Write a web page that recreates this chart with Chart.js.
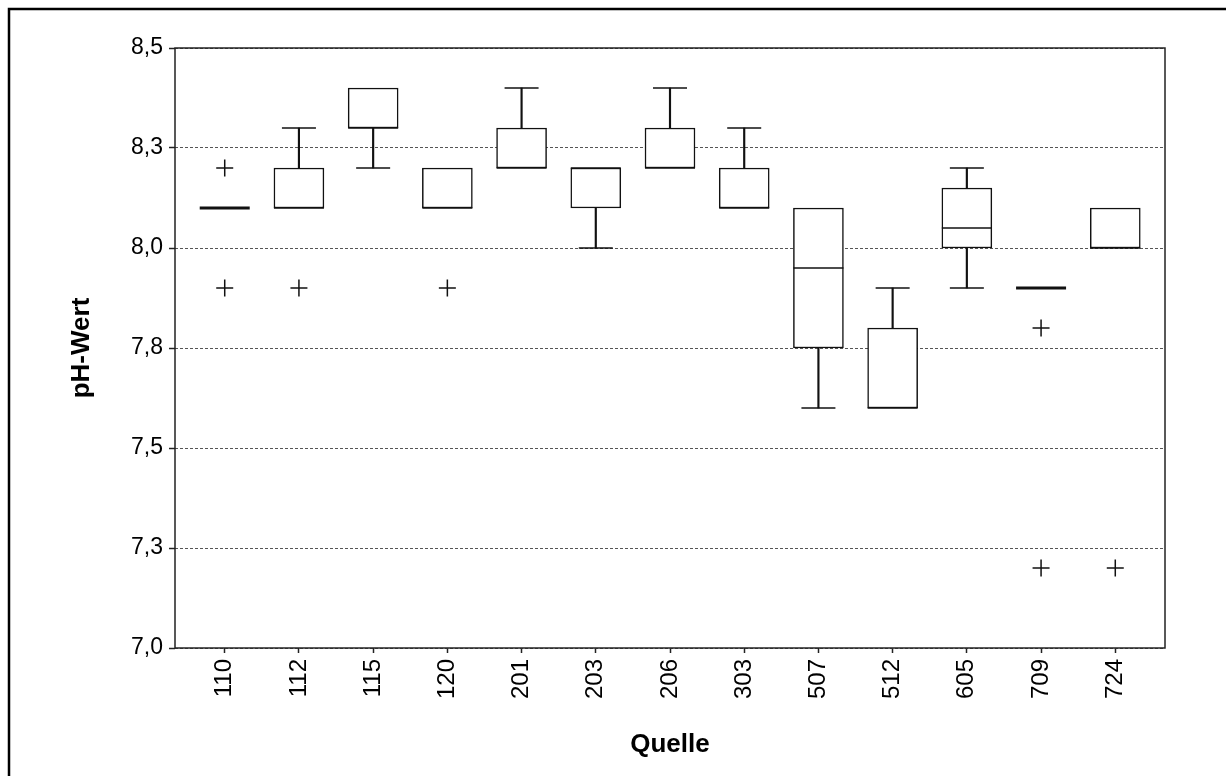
<!DOCTYPE html>
<html>
<head>
<meta charset="utf-8">
<title>pH-Wert je Quelle</title>
<script src="https://cdn.jsdelivr.net/npm/chart.js@4.4.1/dist/chart.umd.min.js"></script>
<style>
  html, body { margin: 0; padding: 0; background: #fff; overflow: hidden; }
  #wrap { position: relative; width: 1226px; height: 776px; }
</style>
</head>
<body>
<div id="wrap"><canvas id="myChart"></canvas></div>
<script>
// Quellen (categories)
const quellen = ['110', '112', '115', '120', '201', '203', '206', '303', '507', '512', '605', '709', '724'];

// box plot values per Quelle
const whiskerLow  = [8.1, 8.1, 8.2, 8.1, 8.2, 8.0, 8.2, 8.1, 7.6,  7.6, 7.9,  7.9, 8.0];
const boxLow      = [8.1, 8.1, 8.3, 8.1, 8.2, 8.1, 8.2, 8.1, 7.75, 7.6, 8.0,  7.9, 8.0];
const median      = [8.1, 8.1, 8.3, 8.1, 8.2, 8.2, 8.2, 8.1, 7.95, 7.6, 8.05, 7.9, 8.0];
const boxHigh     = [8.1, 8.2, 8.4, 8.2, 8.3, 8.2, 8.3, 8.2, 8.1,  7.8, 8.15, 7.9, 8.1];
const whiskerHigh = [8.1, 8.3, 8.4, 8.2, 8.4, 8.2, 8.4, 8.3, 8.1,  7.9, 8.2,  7.9, 8.1];

// Ausreißer (outliers)
const outlierQuelle = ['110', '110', '112', '120', '709', '709', '724'];
const outlierValue  = [8.2,   7.9,   7.9,   7.9,   7.8,   7.2,   7.2];

// y ticks
const yMin = 7.0, yMax = 8.5, yStep = 0.25;

const FONT = "'Liberation Sans', Arial, sans-serif";

// build datasets from the arrays
const boxData = quellen.map((q, i) => ({ x: i, y: [boxLow[i], boxHigh[i]] }));
const lowWhisker = [], highWhisker = [], lowCap = [], highCap = [];
quellen.forEach((q, i) => {
    if (whiskerLow[i] < boxLow[i]) {
        lowWhisker.push({ x: i, y: [whiskerLow[i], boxLow[i]] });
        lowCap.push({ x: i, y: whiskerLow[i] });
    }
    if (whiskerHigh[i] > boxHigh[i]) {
        highWhisker.push({ x: i, y: [boxHigh[i], whiskerHigh[i]] });
        highCap.push({ x: i, y: whiskerHigh[i] });
    }
});
const medianData = quellen.map((q, i) => ({ x: i, y: median[i] }));
const outlierData = outlierQuelle.map((q, k) => ({ x: quellen.indexOf(q), y: outlierValue[k] }));

// frame around the plot area and the whole picture
const framePlugin = {
    id: 'frames',
    afterDraw(chart) {
        const { ctx, chartArea: a } = chart;
        ctx.save();
        ctx.strokeStyle = '#222';
        ctx.lineWidth = 1.5;
        ctx.strokeRect(a.left, a.top, a.right - a.left, a.bottom - a.top);
        ctx.strokeStyle = '#000';
        ctx.lineWidth = 2.5;
        ctx.strokeRect(9, 9, 1400, 1000);
        ctx.restore();
    }
};

const lineStyle = { pointStyle: 'line', pointBorderColor: '#111', pointBackgroundColor: '#111', type: 'scatter' };

const config = {
    type: 'bar',
    data: {
        datasets: [
            {
                label: 'Box',
                data: boxData,
                grouped: false,
                barThickness: 50,
                backgroundColor: '#fff',
                borderColor: '#111',
                borderWidth: 1.5,
                borderSkipped: false,
                order: 2
            },
            {
                label: 'Whisker unten',
                data: lowWhisker,
                grouped: false,
                barThickness: 1.5,
                backgroundColor: '#111',
                borderWidth: 0,
                order: 3
            },
            {
                label: 'Whisker oben',
                data: highWhisker,
                grouped: false,
                barThickness: 1.5,
                backgroundColor: '#111',
                borderWidth: 0,
                order: 3
            },
            Object.assign({ label: 'Cap unten', data: lowCap, pointRadius: 17, pointBorderWidth: 1.5, order: 1 }, lineStyle),
            Object.assign({ label: 'Cap oben', data: highCap, pointRadius: 17, pointBorderWidth: 1.5, order: 1 }, lineStyle),
            Object.assign({
                label: 'Median',
                data: medianData,
                pointRadius: 25,
                pointBorderWidth: (c) => boxLow[c.dataIndex] === boxHigh[c.dataIndex] ? 3 : 1.5,
                order: 0
            }, lineStyle),
            {
                type: 'scatter',
                label: 'Ausreißer',
                data: outlierData,
                pointStyle: 'cross',
                pointRadius: 8.5,
                pointBorderWidth: 1.5,
                pointBorderColor: '#111',
                order: 0
            }
        ]
    },
    options: {
        responsive: true,
        maintainAspectRatio: false,
        animation: false,
        events: [],
        layout: { padding: { top: 48, right: 61, bottom: 0, left: 0 } },
        plugins: {
            legend: { display: false },
            tooltip: { enabled: false }
        },
        scales: {
            x: {
                type: 'linear',
                min: -0.67,
                max: 12.67,
                offset: false,
                afterBuildTicks: (s) => { s.ticks = quellen.map((q, i) => ({ value: i })); },
                afterFit: (s) => { s.height = 128; },
                grid: { offset: false, drawOnChartArea: false, drawTicks: true, tickLength: 5, tickColor: '#222', tickWidth: 1.5 },
                border: { display: false },
                ticks: {
                    autoSkip: false,
                    minRotation: 90,
                    maxRotation: 90,
                    padding: 6,
                    color: '#000',
                    font: { family: FONT, size: 24 },
                    callback: (v) => quellen[v]
                },
                title: {
                    display: true,
                    text: 'Quelle',
                    color: '#000',
                    font: { family: FONT, size: 26, weight: 'bold' },
                    padding: { top: 0, bottom: 16 }
                }
            },
            y: {
                min: yMin,
                max: yMax,
                afterFit: (s) => { s.width = 175; },
                grid: {
                    color: '#555',
                    lineWidth: 1,
                    tickLength: 6,
                    tickColor: '#222',
                    tickWidth: 1.5,
                    tickBorderDash: []
                },
                border: { display: false, dash: [3, 2] },
                ticks: {
                    stepSize: yStep,
                    padding: 6,
                    color: '#000',
                    font: { family: FONT, size: 23 },
                    callback: (v) => v.toFixed(1).replace('.', ',')
                },
                title: {
                    display: true,
                    text: 'pH-Wert',
                    color: '#000',
                    font: { family: FONT, size: 26, weight: 'bold' },
                    padding: { top: 66, bottom: 0 }
                }
            }
        }
    },
    plugins: [framePlugin]
};

const myChart = new Chart(document.getElementById('myChart'), config);
</script>
</body>
</html>
